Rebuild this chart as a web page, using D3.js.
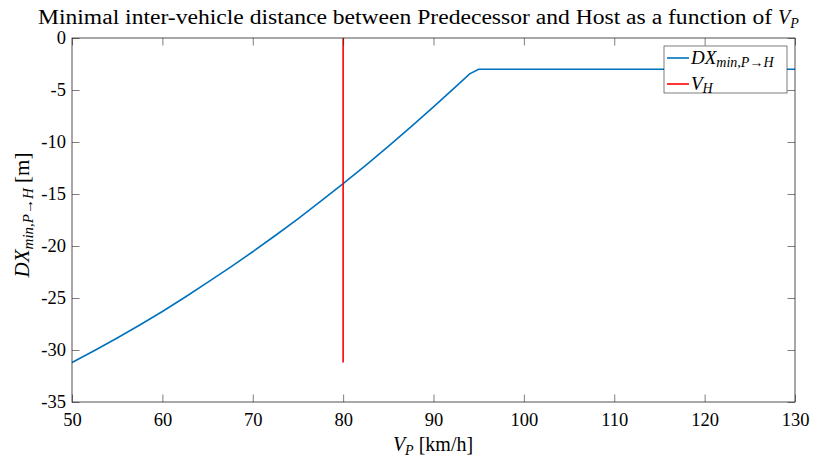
<!DOCTYPE html>
<html>
<head>
<meta charset="utf-8">
<script src="https://cdn.jsdelivr.net/npm/d3@7"></script>
<style>
  body { margin: 0; background: #fff; }
  text { font-family: "Liberation Serif", "DejaVu Serif", serif; fill: #000; }
</style>
</head>
<body>
<svg id="chart" width="826" height="457"></svg>
<script>
// speed of predecessor [km/h] and min distance [m]
var vp = [50, 52.5, 55, 57.5, 60, 62.5, 65, 67.5, 70, 72.5, 75, 77.5, 80, 82.5, 85, 87.5, 90, 92.5, 94, 95, 130];
var dxMin = [-31.2, -30.05, -28.85, -27.6, -26.3, -24.93, -23.5, -22.06, -20.55, -18.99, -17.4, -15.72, -14.0, -12.24, -10.42, -8.55, -6.63, -4.66, -3.45, -3.0, -3.0];
var vh = 80;
var vhLine = [0, -31.2];
var xTicks = [50, 60, 70, 80, 90, 100, 110, 120, 130];
var yTicks = [0, -5, -10, -15, -20, -25, -30, -35];

var svg = d3.select("#chart");
var m = {left: 72, right: 795, top: 38, bottom: 402};
var axisColor = "#262626";

var x = d3.scaleLinear().domain([50, 130]).range([m.left, m.right]);
var y = d3.scaleLinear().domain([-35, 0]).range([m.bottom, m.top]);

// title
var title = svg.append("text")
	.attr("x", 38)
	.attr("y", 24)
	.style("font-size", "20px");
title.append("tspan").attr("textLength", 740).attr("lengthAdjust", "spacingAndGlyphs")
	.text("Minimal inter-vehicle distance between Predecessor and Host as a function of ");
title.append("tspan").style("font-style", "italic").text("V");
title.append("tspan").style("font-style", "italic").style("font-size", "14px").attr("dy", 4).text("P");

// lines
var line = d3.line()
	.x(function(d, i) { return x(vp[i]); })
	.y(function(d) { return y(d); });

svg.append("path")
	.datum(dxMin)
	.attr("d", line)
	.attr("fill", "none")
	.attr("stroke", "#0072BD")
	.attr("stroke-width", 1.6);

svg.append("line")
	.attr("x1", x(vh)).attr("x2", x(vh))
	.attr("y1", y(vhLine[0])).attr("y2", y(vhLine[1]))
	.attr("stroke", "#FF0000")
	.attr("stroke-width", 1.6);

// axes: ticks inside, on all four sides
var tl = 7.5;
var fmt = function(d) { return String(d); };
var xAxisB = d3.axisBottom(x).tickValues(xTicks).tickSizeInner(-tl).tickSizeOuter(0).tickPadding(10.5).tickFormat(fmt);
var xAxisT = d3.axisTop(x).tickValues(xTicks).tickSizeInner(-tl).tickSizeOuter(0).tickFormat("");
var yAxisL = d3.axisLeft(y).tickValues(yTicks).tickSizeInner(-tl).tickSizeOuter(0).tickPadding(6).tickFormat(fmt);
var yAxisR = d3.axisRight(y).tickValues(yTicks).tickSizeInner(-tl).tickSizeOuter(0).tickFormat("");

function style(g) {
	g.select(".domain").remove();
	g.selectAll("line").attr("stroke", axisColor).attr("stroke-width", 0.6);
	g.selectAll("text").style("font-size", "18.5px").attr("fill", "#000")
		.style("font-family", "'Liberation Serif', serif");
}
svg.append("g").attr("transform", "translate(0," + m.bottom + ")").call(xAxisB).call(style);
svg.append("g").attr("transform", "translate(0," + m.top + ")").call(xAxisT).call(style);
svg.append("g").attr("transform", "translate(" + m.left + ",0)").call(yAxisL).call(style);
svg.append("g").attr("transform", "translate(" + m.right + ",0)").call(yAxisR).call(style);

svg.append("rect")
	.attr("x", m.left).attr("y", m.top)
	.attr("width", m.right - m.left).attr("height", m.bottom - m.top)
	.attr("fill", "none").attr("stroke", axisColor).attr("stroke-width", 0.8);

// axis labels
var xl = svg.append("text")
	.attr("x", 433)
	.attr("y", 451)
	.attr("text-anchor", "middle")
	.style("font-size", "20px");
xl.append("tspan").style("font-style", "italic").text("V");
xl.append("tspan").style("font-style", "italic").style("font-size", "14px").attr("dy", 4).text("P");
xl.append("tspan").attr("dy", -4).text(" [km/h]");

var yl = svg.append("text")
	.attr("transform", "translate(29,215) rotate(-90)")
	.attr("text-anchor", "middle")
	.style("font-size", "21px");
yl.append("tspan").style("font-style", "italic").text("DX");
yl.append("tspan").style("font-style", "italic").style("font-size", "15px").attr("dy", 4).text("min,P\u2192H");
yl.append("tspan").attr("dy", -4).text(" [m]");

// legend
var lg = svg.append("g").attr("transform", "translate(664,46)");
lg.append("rect").attr("width", 123).attr("height", 47)
	.attr("fill", "#fff").attr("stroke", axisColor).attr("stroke-width", 0.6);
var items = [
	{color: "#0072BD", main: "DX", sub: "min,P\u2192H"},
	{color: "#FF0000", main: "V", sub: "H"}
];
items.forEach(function(it, i) {
	var cy = 12 + i * 26;
	lg.append("line").attr("x1", 3).attr("x2", 25).attr("y1", cy).attr("y2", cy)
		.attr("stroke", it.color).attr("stroke-width", 1.6);
	var t = lg.append("text").attr("x", 27).attr("y", cy + 6).style("font-size", "19px");
	t.append("tspan").style("font-style", "italic").text(it.main);
	t.append("tspan").style("font-style", "italic").style("font-size", "14px").attr("dy", 3).text(it.sub);
});
</script>
</body>
</html>
